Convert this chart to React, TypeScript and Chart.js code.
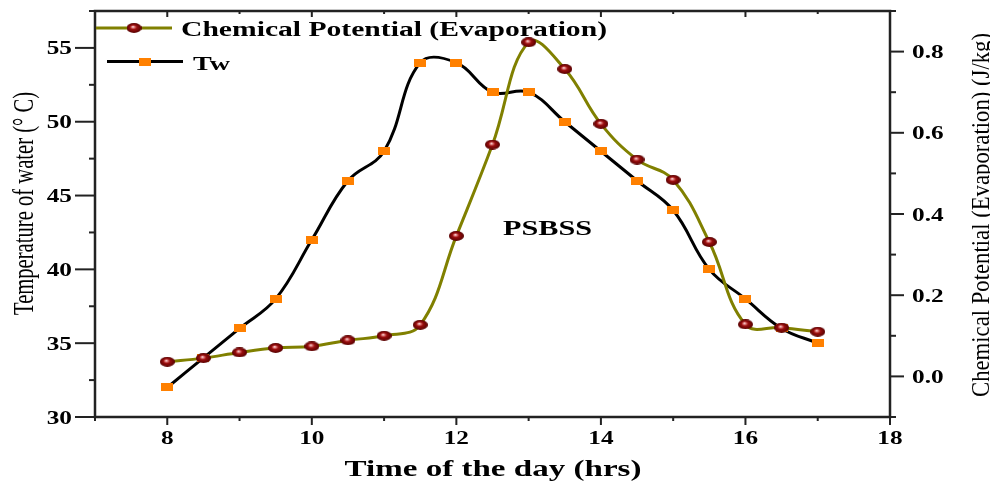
import React, { useEffect, useRef } from 'react';
import { Chart, registerables } from 'chart.js';

Chart.register(...registerables);

// ---- data ----
const hours = [8, 8.5, 9, 9.5, 10, 10.5, 11, 11.5, 12, 12.5, 13, 13.5, 14, 14.5, 15, 15.5, 16, 16.5, 17];
const chemicalPotential = [0.036, 0.045, 0.059, 0.070, 0.074, 0.089, 0.100, 0.127, 0.346, 0.571, 0.823, 0.757, 0.622, 0.534, 0.484, 0.331, 0.128, 0.120, 0.110];
const waterTemp = [32, 34, 36, 38, 42, 46, 48, 54, 54, 52, 52, 50, 48, 46, 44, 40, 38, 36, 35];

const xMajorTicks = [8, 10, 12, 14, 16, 18];
const leftMajorTicks = [30, 35, 40, 45, 50, 55];
const rightMajorTicks = [0.0, 0.2, 0.4, 0.6, 0.8];

const chemLabel = 'Chemical Potential (Evaporation)';
const twLabel = 'Tw';
const xTitle = 'Time of the day (hrs)';
const yLeftTitle = 'Temperature of water (° C)';
const yRightTitle = 'Chemical Potential (Evaporation) (J/kg)';
const annotation = 'PSBSS';

const OLIVE = '#808000';
const ORANGE = '#ff8000';
const SERIF = '"Liberation Serif", serif';

function makeBall(w: number, h: number) {
  const c = document.createElement('canvas');
  c.width = w;
  c.height = h;
  const g = c.getContext('2d')!;
  g.save();
  g.translate(w / 2, h / 2);
  g.scale(w / h, 1);
  const r = h / 2;
  const grad = g.createRadialGradient(-r * 0.15, -r * 0.25, 0, 0, 0, r);
  grad.addColorStop(0, '#ffffff');
  grad.addColorStop(0.2, '#e07a7a');
  grad.addColorStop(0.45, '#9a0e0e');
  grad.addColorStop(1, '#560000');
  g.fillStyle = grad;
  g.beginPath();
  g.arc(0, 0, r, 0, Math.PI * 2);
  g.fill();
  g.restore();
  return c;
}

function makeSquare(w: number, h: number) {
  const c = document.createElement('canvas');
  c.width = w;
  c.height = h;
  const g = c.getContext('2d')!;
  g.fillStyle = ORANGE;
  g.fillRect(0, 0, w, h);
  return c;
}

function fitText(
  ctx: CanvasRenderingContext2D,
  text: string,
  x: number,
  y: number,
  font: string,
  length: number,
  thick: number,
  align: CanvasTextAlign,
  rot = 0
) {
  ctx.save();
  ctx.font = font;
  const w = ctx.measureText(text).width;
  ctx.translate(x, y);
  ctx.rotate(rot);
  ctx.scale(length / w, thick);
  ctx.textAlign = align;
  ctx.textBaseline = 'alphabetic';
  ctx.fillText(text, 0, 0);
  ctx.restore();
}

function scaledText(
  ctx: CanvasRenderingContext2D,
  text: string,
  x: number,
  y: number,
  font: string,
  sx: number,
  align: CanvasTextAlign
) {
  ctx.save();
  ctx.font = font;
  ctx.translate(x, y);
  ctx.scale(sx, 1);
  ctx.textAlign = align;
  ctx.textBaseline = 'alphabetic';
  ctx.fillText(text, 0, 0);
  ctx.restore();
}

export default function App() {
  const ref = useRef<HTMLCanvasElement | null>(null);

  useEffect(() => {
    const canvas = ref.current;
    if (!canvas) return;
    const ball = makeBall(15, 10);
    const square = makeSquare(12, 8);

    const decor = {
      id: 'decor',
      afterDraw(chart: any) {
        const ctx: CanvasRenderingContext2D = chart.ctx;
        const { left, right, top, bottom } = chart.chartArea;
        const xs = chart.scales.x;
        const yl = chart.scales.y;
        const yr = chart.scales.y1;
        ctx.save();
        ctx.strokeStyle = '#222';
        ctx.fillStyle = '#000';
        ctx.lineWidth = 2.5;
        ctx.strokeRect(left, top, right - left, bottom - top);
        ctx.lineWidth = 2;
        const tickFont = `bold 19px ${SERIF}`;
        for (let v = xs.min; v <= xs.max + 1e-9; v += 1) {
          const px = xs.getPixelForValue(v);
          const major = xMajorTicks.includes(v);
          ctx.beginPath();
          ctx.moveTo(px, bottom);
          ctx.lineTo(px, bottom + (major ? 8 : 4));
          ctx.moveTo(px, top);
          ctx.lineTo(px, top + (major ? 6 : 3));
          ctx.stroke();
        }
        xMajorTicks.forEach((v) => {
          scaledText(ctx, String(v), xs.getPixelForValue(v), 444, tickFont, 1.33, 'center');
        });
        for (let v = yl.min; v <= yl.max + 1e-9; v += 2.5) {
          const py = yl.getPixelForValue(v);
          const major = leftMajorTicks.includes(v);
          ctx.beginPath();
          ctx.moveTo(left, py);
          ctx.lineTo(left - (major ? 20 : 6), py);
          ctx.stroke();
        }
        leftMajorTicks.forEach((v) => {
          scaledText(ctx, String(v), 72, yl.getPixelForValue(v) + 6.5, tickFont, 1.33, 'right');
        });
        for (let k = 0; k <= 10; k++) {
          const v = -0.1 + k * 0.1;
          const py = yr.getPixelForValue(v);
          const major = k % 2 === 1 && k < 10;
          ctx.beginPath();
          ctx.moveTo(right, py);
          ctx.lineTo(right + (major ? 14 : 6), py);
          ctx.stroke();
        }
        rightMajorTicks.forEach((v) => {
          scaledText(ctx, v.toFixed(1), 912, yr.getPixelForValue(v) + 6.5, tickFont, 1.33, 'left');
        });

        fitText(ctx, xTitle, 493, 476, `bold 23px ${SERIF}`, 297, 1, 'center');
        fitText(ctx, yLeftTitle, 33, 203.5, `21px ${SERIF}`, 223, 1.45, 'center', -Math.PI / 2);
        fitText(ctx, yRightTitle, 989, 215, `20px ${SERIF}`, 364, 1.3, 'center', -Math.PI / 2);

        fitText(ctx, annotation, 503, 235, `bold 22px ${SERIF}`, 89, 1, 'left');

        ctx.lineWidth = 3;
        ctx.strokeStyle = OLIVE;
        ctx.beginPath();
        ctx.moveTo(96, 28);
        ctx.lineTo(172, 28);
        ctx.stroke();
        ctx.drawImage(ball, 134 - ball.width / 2, 28 - ball.height / 2);
        fitText(ctx, chemLabel, 181, 35.7, `bold 20px ${SERIF}`, 426, 1, 'left');
        ctx.strokeStyle = '#000';
        ctx.beginPath();
        ctx.moveTo(107, 61.5);
        ctx.lineTo(183, 61.5);
        ctx.stroke();
        ctx.drawImage(square, 145 - square.width / 2, 61.5 - square.height / 2);
        fitText(ctx, twLabel, 193, 69.5, `bold 19px ${SERIF}`, 37, 1, 'left');
        ctx.restore();
      },
    };

    const chart = new Chart(canvas, {
      type: 'line',
      data: {
        datasets: [
          {
            label: chemLabel,
            data: hours.map((h, i) => ({ x: h, y: chemicalPotential[i] })),
            yAxisID: 'y1',
            borderColor: OLIVE,
            backgroundColor: OLIVE,
            borderWidth: 3,
            tension: 0.4,
            pointStyle: ball as any,
            pointRadius: 6,
            fill: false,
          },
          {
            label: twLabel,
            data: hours.map((h, i) => ({ x: h, y: waterTemp[i] })),
            yAxisID: 'y',
            borderColor: '#000',
            backgroundColor: ORANGE,
            borderWidth: 3,
            tension: 0.4,
            pointStyle: square as any,
            pointRadius: 6,
            fill: false,
          },
        ],
      },
      options: {
        responsive: false,
        animation: false,
        devicePixelRatio: 1,
        layout: { padding: { top: 11, left: 0, right: 0, bottom: 0 } },
        plugins: { legend: { display: false }, tooltip: { enabled: false }, title: { display: false } },
        scales: {
          x: {
            type: 'linear',
            min: 7,
            max: 18,
            grid: { display: false },
            border: { display: false },
            ticks: { display: false },
            afterFit: (s: any) => {
              s.height = 70;
            },
          },
          y: {
            type: 'linear',
            position: 'left',
            min: 30,
            max: 57.5,
            grid: { display: false },
            border: { display: false },
            ticks: { display: false },
            afterFit: (s: any) => {
              s.width = 95;
            },
          },
          y1: {
            type: 'linear',
            position: 'right',
            min: -0.1,
            max: 0.9,
            grid: { display: false },
            border: { display: false },
            ticks: { display: false },
            afterFit: (s: any) => {
              s.width = 100;
            },
          },
        },
      },
      plugins: [decor],
    });
    return () => chart.destroy();
  }, []);

  return (
    <div style={{ position: 'absolute', left: 0, top: 0, width: 990, height: 487, background: '#fff' }}>
      <canvas ref={ref} width={990} height={487} />
    </div>
  );
}
